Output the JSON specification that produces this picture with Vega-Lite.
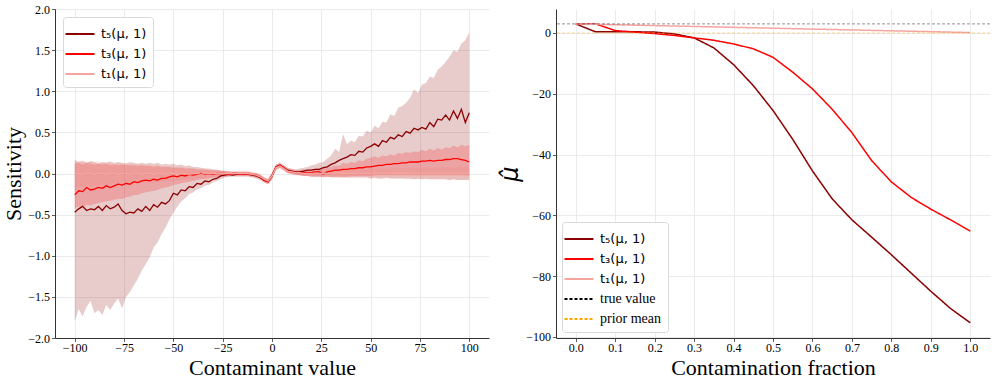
{
"$schema": "https://vega.github.io/schema/vega-lite/v6.json",
"background": "white",
"padding": {"left": 2, "top": 3, "right": 5, "bottom": 3},
"spacing": 9,
"config": {
  "view": {"stroke": null},
  "axis": {"labelFont": "Liberation Serif", "labelFontSize": 12, "labelColor": "#000", "titleFont": "Liberation Serif", "titleFontSize": 22, "titleFontWeight": "normal", "titleColor": "#000", "domainColor": "#333", "domainWidth": 1, "tickColor": "#333", "tickSize": 3.5, "tickWidth": 0.8, "gridColor": "#e6e6e6", "gridWidth": 0.8, "labelPadding": 2, "titlePadding": 2},
  "axisX": {"labelPadding": 1, "titlePadding": 4},
  "legend": {"labelFont": "DejaVu Sans", "labelFontSize": 13, "labelColor": "#000", "symbolType": "M-1.45,0H1.45", "symbolSize": 400, "symbolStrokeWidth": 2, "symbolOpacity": 1, "strokeColor": "#d9d9d9", "fillColor": "#ffffff", "cornerRadius": 3, "padding": 6, "labelOffset": 10, "rowPadding": 2}
},
"resolve": {"scale": {"color": "independent", "strokeDash": "independent"}, "legend": {"color": "independent", "strokeDash": "independent"}},
"hconcat": [
{
  "width": 434, "height": 329,
  "data": {"values": [
{"x":-100,"s":"t5","y":-0.47,"lo":-1.80,"hi":0.16},{"x":-98,"s":"t5","y":-0.43,"lo":-1.65,"hi":0.14},{"x":-96,"s":"t5","y":-0.40,"lo":-1.74,"hi":0.15},{"x":-94,"s":"t5","y":-0.45,"lo":-1.62,"hi":0.13},{"x":-92,"s":"t5","y":-0.43,"lo":-1.55,"hi":0.15},{"x":-90,"s":"t5","y":-0.44,"lo":-1.70,"hi":0.14},{"x":-88,"s":"t5","y":-0.40,"lo":-1.66,"hi":0.12},{"x":-86,"s":"t5","y":-0.45,"lo":-1.72,"hi":0.14},{"x":-84,"s":"t5","y":-0.39,"lo":-1.60,"hi":0.13},{"x":-82,"s":"t5","y":-0.43,"lo":-1.66,"hi":0.15},{"x":-80,"s":"t5","y":-0.41,"lo":-1.58,"hi":0.12},{"x":-78,"s":"t5","y":-0.37,"lo":-1.52,"hi":0.14},{"x":-76,"s":"t5","y":-0.45,"lo":-1.64,"hi":0.13},{"x":-74,"s":"t5","y":-0.49,"lo":-1.50,"hi":0.12},{"x":-72,"s":"t5","y":-0.47,"lo":-1.44,"hi":0.14},{"x":-70,"s":"t5","y":-0.48,"lo":-1.36,"hi":0.13},{"x":-68,"s":"t5","y":-0.43,"lo":-1.28,"hi":0.12},{"x":-66,"s":"t5","y":-0.46,"lo":-1.18,"hi":0.13},{"x":-64,"s":"t5","y":-0.40,"lo":-1.10,"hi":0.12},{"x":-62,"s":"t5","y":-0.45,"lo":-1.02,"hi":0.13},{"x":-60,"s":"t5","y":-0.38,"lo":-0.90,"hi":0.12},{"x":-58,"s":"t5","y":-0.41,"lo":-0.84,"hi":0.13},{"x":-56,"s":"t5","y":-0.35,"lo":-0.74,"hi":0.11},{"x":-54,"s":"t5","y":-0.37,"lo":-0.66,"hi":0.12},{"x":-52,"s":"t5","y":-0.33,"lo":-0.56,"hi":0.11},{"x":-50,"s":"t5","y":-0.24,"lo":-0.48,"hi":0.12},{"x":-48,"s":"t5","y":-0.26,"lo":-0.40,"hi":0.10},{"x":-46,"s":"t5","y":-0.20,"lo":-0.34,"hi":0.11},{"x":-44,"s":"t5","y":-0.21,"lo":-0.30,"hi":0.09},{"x":-42,"s":"t5","y":-0.16,"lo":-0.25,"hi":0.10},{"x":-40,"s":"t5","y":-0.17,"lo":-0.23,"hi":0.08},{"x":-38,"s":"t5","y":-0.12,"lo":-0.19,"hi":0.08},{"x":-36,"s":"t5","y":-0.13,"lo":-0.18,"hi":0.07},{"x":-34,"s":"t5","y":-0.09,"lo":-0.15,"hi":0.06},{"x":-32,"s":"t5","y":-0.10,"lo":-0.14,"hi":0.06},{"x":-30,"s":"t5","y":-0.07,"lo":-0.11,"hi":0.05},{"x":-28,"s":"t5","y":-0.06,"lo":-0.09,"hi":0.05},{"x":-26,"s":"t5","y":-0.03,"lo":-0.07,"hi":0.04},{"x":-24,"s":"t5","y":-0.02,"lo":-0.05,"hi":0.03},{"x":-22,"s":"t5","y":-0.01,"lo":-0.04,"hi":0.03},{"x":-20,"s":"t5","y":-0.02,"lo":-0.04,"hi":0.02},{"x":-18,"s":"t5","y":-0.01,"lo":-0.04,"hi":0.02},{"x":-16,"s":"t5","y":-0.01,"lo":-0.04,"hi":0.02},{"x":-14,"s":"t5","y":-0.01,"lo":-0.04,"hi":0.02},{"x":-12,"s":"t5","y":-0.01,"lo":-0.04,"hi":0.02},{"x":-10,"s":"t5","y":-0.02,"lo":-0.05,"hi":0.01},{"x":-8,"s":"t5","y":-0.03,"lo":-0.06,"hi":0.00},{"x":-6,"s":"t5","y":-0.05,"lo":-0.08,"hi":-0.02},{"x":-4,"s":"t5","y":-0.08,"lo":-0.11,"hi":-0.05},{"x":-2,"s":"t5","y":-0.10,"lo":-0.13,"hi":-0.07},{"x":0,"s":"t5","y":-0.03,"lo":-0.07,"hi":0.01},{"x":2,"s":"t5","y":0.08,"lo":0.04,"hi":0.11},{"x":4,"s":"t5","y":0.10,"lo":0.07,"hi":0.13},{"x":6,"s":"t5","y":0.07,"lo":0.04,"hi":0.10},{"x":8,"s":"t5","y":0.04,"lo":0.01,"hi":0.07},{"x":10,"s":"t5","y":0.03,"lo":0.00,"hi":0.06},{"x":12,"s":"t5","y":0.02,"lo":-0.01,"hi":0.05},{"x":14,"s":"t5","y":0.02,"lo":-0.02,"hi":0.06},{"x":16,"s":"t5","y":0.03,"lo":-0.03,"hi":0.07},{"x":18,"s":"t5","y":0.04,"lo":-0.03,"hi":0.08},{"x":20,"s":"t5","y":0.04,"lo":-0.04,"hi":0.10},{"x":22,"s":"t5","y":0.05,"lo":-0.04,"hi":0.11},{"x":24,"s":"t5","y":0.05,"lo":-0.04,"hi":0.13},{"x":26,"s":"t5","y":0.07,"lo":-0.04,"hi":0.14},{"x":28,"s":"t5","y":0.08,"lo":-0.04,"hi":0.18},{"x":30,"s":"t5","y":0.11,"lo":-0.05,"hi":0.22},{"x":32,"s":"t5","y":0.13,"lo":-0.05,"hi":0.30},{"x":34,"s":"t5","y":0.16,"lo":-0.05,"hi":0.26},{"x":36,"s":"t5","y":0.18,"lo":-0.05,"hi":0.48},{"x":38,"s":"t5","y":0.20,"lo":-0.05,"hi":0.36},{"x":40,"s":"t5","y":0.23,"lo":-0.05,"hi":0.40},{"x":42,"s":"t5","y":0.22,"lo":-0.05,"hi":0.38},{"x":44,"s":"t5","y":0.27,"lo":-0.05,"hi":0.46},{"x":46,"s":"t5","y":0.26,"lo":-0.05,"hi":0.45},{"x":48,"s":"t5","y":0.31,"lo":-0.05,"hi":0.52},{"x":50,"s":"t5","y":0.33,"lo":-0.06,"hi":0.50},{"x":52,"s":"t5","y":0.36,"lo":-0.05,"hi":0.58},{"x":54,"s":"t5","y":0.33,"lo":-0.06,"hi":0.55},{"x":56,"s":"t5","y":0.40,"lo":-0.06,"hi":0.63},{"x":58,"s":"t5","y":0.38,"lo":-0.05,"hi":0.62},{"x":60,"s":"t5","y":0.44,"lo":-0.06,"hi":0.72},{"x":62,"s":"t5","y":0.42,"lo":-0.06,"hi":0.70},{"x":64,"s":"t5","y":0.47,"lo":-0.06,"hi":0.80},{"x":66,"s":"t5","y":0.45,"lo":-0.06,"hi":0.82},{"x":68,"s":"t5","y":0.51,"lo":-0.06,"hi":0.86},{"x":70,"s":"t5","y":0.49,"lo":-0.06,"hi":0.92},{"x":72,"s":"t5","y":0.55,"lo":-0.07,"hi":1.02},{"x":74,"s":"t5","y":0.53,"lo":-0.06,"hi":0.98},{"x":76,"s":"t5","y":0.56,"lo":-0.07,"hi":1.08},{"x":78,"s":"t5","y":0.54,"lo":-0.06,"hi":1.10},{"x":80,"s":"t5","y":0.62,"lo":-0.07,"hi":1.18},{"x":82,"s":"t5","y":0.57,"lo":-0.07,"hi":1.16},{"x":84,"s":"t5","y":0.66,"lo":-0.07,"hi":1.26},{"x":86,"s":"t5","y":0.65,"lo":-0.07,"hi":1.30},{"x":88,"s":"t5","y":0.71,"lo":-0.07,"hi":1.36},{"x":90,"s":"t5","y":0.65,"lo":-0.08,"hi":1.42},{"x":92,"s":"t5","y":0.76,"lo":-0.07,"hi":1.50},{"x":94,"s":"t5","y":0.67,"lo":-0.08,"hi":1.48},{"x":96,"s":"t5","y":0.78,"lo":-0.08,"hi":1.58},{"x":98,"s":"t5","y":0.62,"lo":-0.08,"hi":1.62},{"x":100,"s":"t5","y":0.74,"lo":-0.08,"hi":1.72},
{"x":-100,"s":"t3","y":-0.26,"lo":-0.42,"hi":0.12},{"x":-98,"s":"t3","y":-0.21,"lo":-0.40,"hi":0.13},{"x":-96,"s":"t3","y":-0.22,"lo":-0.41,"hi":0.11},{"x":-94,"s":"t3","y":-0.17,"lo":-0.38,"hi":0.13},{"x":-92,"s":"t3","y":-0.20,"lo":-0.39,"hi":0.12},{"x":-90,"s":"t3","y":-0.19,"lo":-0.37,"hi":0.11},{"x":-88,"s":"t3","y":-0.17,"lo":-0.36,"hi":0.12},{"x":-86,"s":"t3","y":-0.18,"lo":-0.35,"hi":0.11},{"x":-84,"s":"t3","y":-0.15,"lo":-0.34,"hi":0.12},{"x":-82,"s":"t3","y":-0.17,"lo":-0.33,"hi":0.10},{"x":-80,"s":"t3","y":-0.15,"lo":-0.32,"hi":0.11},{"x":-78,"s":"t3","y":-0.13,"lo":-0.31,"hi":0.10},{"x":-76,"s":"t3","y":-0.14,"lo":-0.31,"hi":0.11},{"x":-74,"s":"t3","y":-0.12,"lo":-0.29,"hi":0.10},{"x":-72,"s":"t3","y":-0.13,"lo":-0.28,"hi":0.10},{"x":-70,"s":"t3","y":-0.10,"lo":-0.26,"hi":0.10},{"x":-68,"s":"t3","y":-0.11,"lo":-0.26,"hi":0.09},{"x":-66,"s":"t3","y":-0.09,"lo":-0.24,"hi":0.10},{"x":-64,"s":"t3","y":-0.08,"lo":-0.23,"hi":0.09},{"x":-62,"s":"t3","y":-0.09,"lo":-0.22,"hi":0.09},{"x":-60,"s":"t3","y":-0.07,"lo":-0.21,"hi":0.08},{"x":-58,"s":"t3","y":-0.08,"lo":-0.20,"hi":0.09},{"x":-56,"s":"t3","y":-0.06,"lo":-0.18,"hi":0.08},{"x":-54,"s":"t3","y":-0.06,"lo":-0.17,"hi":0.08},{"x":-52,"s":"t3","y":-0.04,"lo":-0.16,"hi":0.08},{"x":-50,"s":"t3","y":-0.03,"lo":-0.14,"hi":0.07},{"x":-48,"s":"t3","y":-0.04,"lo":-0.13,"hi":0.07},{"x":-46,"s":"t3","y":-0.02,"lo":-0.12,"hi":0.07},{"x":-44,"s":"t3","y":-0.03,"lo":-0.11,"hi":0.06},{"x":-42,"s":"t3","y":-0.01,"lo":-0.10,"hi":0.06},{"x":-40,"s":"t3","y":-0.02,"lo":-0.09,"hi":0.06},{"x":-38,"s":"t3","y":-0.01,"lo":-0.08,"hi":0.05},{"x":-36,"s":"t3","y":0.00,"lo":-0.07,"hi":0.05},{"x":-34,"s":"t3","y":-0.01,"lo":-0.07,"hi":0.05},{"x":-32,"s":"t3","y":0.00,"lo":-0.06,"hi":0.04},{"x":-30,"s":"t3","y":-0.01,"lo":-0.05,"hi":0.04},{"x":-28,"s":"t3","y":0.00,"lo":-0.05,"hi":0.04},{"x":-26,"s":"t3","y":0.00,"lo":-0.04,"hi":0.03},{"x":-24,"s":"t3","y":0.00,"lo":-0.04,"hi":0.03},{"x":-22,"s":"t3","y":-0.01,"lo":-0.03,"hi":0.02},{"x":-20,"s":"t3","y":0.00,"lo":-0.03,"hi":0.02},{"x":-18,"s":"t3","y":0.00,"lo":-0.03,"hi":0.02},{"x":-16,"s":"t3","y":-0.01,"lo":-0.03,"hi":0.02},{"x":-14,"s":"t3","y":0.00,"lo":-0.03,"hi":0.02},{"x":-12,"s":"t3","y":-0.01,"lo":-0.03,"hi":0.02},{"x":-10,"s":"t3","y":-0.01,"lo":-0.04,"hi":0.01},{"x":-8,"s":"t3","y":-0.02,"lo":-0.05,"hi":0.01},{"x":-6,"s":"t3","y":-0.04,"lo":-0.07,"hi":-0.01},{"x":-4,"s":"t3","y":-0.08,"lo":-0.11,"hi":-0.05},{"x":-2,"s":"t3","y":-0.10,"lo":-0.13,"hi":-0.07},{"x":0,"s":"t3","y":-0.03,"lo":-0.07,"hi":0.01},{"x":2,"s":"t3","y":0.08,"lo":0.05,"hi":0.11},{"x":4,"s":"t3","y":0.10,"lo":0.07,"hi":0.13},{"x":6,"s":"t3","y":0.07,"lo":0.04,"hi":0.10},{"x":8,"s":"t3","y":0.03,"lo":0.00,"hi":0.06},{"x":10,"s":"t3","y":0.02,"lo":-0.01,"hi":0.05},{"x":12,"s":"t3","y":0.01,"lo":-0.02,"hi":0.04},{"x":14,"s":"t3","y":0.01,"lo":-0.02,"hi":0.04},{"x":16,"s":"t3","y":0.01,"lo":-0.03,"hi":0.05},{"x":18,"s":"t3","y":0.01,"lo":-0.03,"hi":0.05},{"x":20,"s":"t3","y":0.01,"lo":-0.04,"hi":0.05},{"x":22,"s":"t3","y":0.02,"lo":-0.04,"hi":0.06},{"x":24,"s":"t3","y":0.02,"lo":-0.04,"hi":0.06},{"x":26,"s":"t3","y":-0.01,"lo":-0.05,"hi":0.05},{"x":28,"s":"t3","y":0.02,"lo":-0.04,"hi":0.07},{"x":30,"s":"t3","y":0.03,"lo":-0.04,"hi":0.08},{"x":32,"s":"t3","y":0.04,"lo":-0.04,"hi":0.10},{"x":34,"s":"t3","y":0.04,"lo":-0.04,"hi":0.09},{"x":36,"s":"t3","y":0.05,"lo":-0.04,"hi":0.13},{"x":38,"s":"t3","y":0.05,"lo":-0.04,"hi":0.12},{"x":40,"s":"t3","y":0.06,"lo":-0.03,"hi":0.14},{"x":42,"s":"t3","y":0.06,"lo":-0.03,"hi":0.13},{"x":44,"s":"t3","y":0.07,"lo":-0.03,"hi":0.16},{"x":46,"s":"t3","y":0.07,"lo":-0.03,"hi":0.15},{"x":48,"s":"t3","y":0.08,"lo":-0.03,"hi":0.18},{"x":50,"s":"t3","y":0.08,"lo":-0.03,"hi":0.19},{"x":52,"s":"t3","y":0.09,"lo":-0.02,"hi":0.21},{"x":54,"s":"t3","y":0.10,"lo":-0.02,"hi":0.19},{"x":56,"s":"t3","y":0.10,"lo":-0.02,"hi":0.22},{"x":58,"s":"t3","y":0.11,"lo":-0.02,"hi":0.21},{"x":60,"s":"t3","y":0.11,"lo":-0.02,"hi":0.23},{"x":62,"s":"t3","y":0.12,"lo":-0.02,"hi":0.22},{"x":64,"s":"t3","y":0.12,"lo":-0.02,"hi":0.25},{"x":66,"s":"t3","y":0.13,"lo":-0.02,"hi":0.24},{"x":68,"s":"t3","y":0.13,"lo":-0.02,"hi":0.26},{"x":70,"s":"t3","y":0.14,"lo":-0.02,"hi":0.25},{"x":72,"s":"t3","y":0.14,"lo":-0.02,"hi":0.27},{"x":74,"s":"t3","y":0.14,"lo":-0.02,"hi":0.26},{"x":76,"s":"t3","y":0.15,"lo":-0.02,"hi":0.29},{"x":78,"s":"t3","y":0.15,"lo":-0.02,"hi":0.27},{"x":80,"s":"t3","y":0.16,"lo":-0.02,"hi":0.30},{"x":82,"s":"t3","y":0.15,"lo":-0.02,"hi":0.28},{"x":84,"s":"t3","y":0.16,"lo":-0.02,"hi":0.31},{"x":86,"s":"t3","y":0.16,"lo":-0.02,"hi":0.29},{"x":88,"s":"t3","y":0.17,"lo":-0.02,"hi":0.32},{"x":90,"s":"t3","y":0.17,"lo":-0.02,"hi":0.31},{"x":92,"s":"t3","y":0.18,"lo":-0.02,"hi":0.34},{"x":94,"s":"t3","y":0.18,"lo":-0.02,"hi":0.32},{"x":96,"s":"t3","y":0.17,"lo":-0.02,"hi":0.35},{"x":98,"s":"t3","y":0.16,"lo":-0.02,"hi":0.33},{"x":100,"s":"t3","y":0.14,"lo":-0.03,"hi":0.35},
{"x":-100,"s":"t1","y":-0.01,"lo":-0.17,"hi":0.16},{"x":-98,"s":"t1","y":0.00,"lo":-0.16,"hi":0.15},{"x":-96,"s":"t1","y":-0.01,"lo":-0.17,"hi":0.16},{"x":-94,"s":"t1","y":0.00,"lo":-0.15,"hi":0.14},{"x":-92,"s":"t1","y":0.00,"lo":-0.16,"hi":0.15},{"x":-90,"s":"t1","y":-0.01,"lo":-0.15,"hi":0.14},{"x":-88,"s":"t1","y":0.00,"lo":-0.15,"hi":0.15},{"x":-86,"s":"t1","y":0.00,"lo":-0.14,"hi":0.13},{"x":-84,"s":"t1","y":-0.01,"lo":-0.15,"hi":0.14},{"x":-82,"s":"t1","y":0.00,"lo":-0.14,"hi":0.13},{"x":-80,"s":"t1","y":0.00,"lo":-0.13,"hi":0.14},{"x":-78,"s":"t1","y":-0.01,"lo":-0.14,"hi":0.13},{"x":-76,"s":"t1","y":0.00,"lo":-0.13,"hi":0.12},{"x":-74,"s":"t1","y":0.00,"lo":-0.13,"hi":0.13},{"x":-72,"s":"t1","y":-0.01,"lo":-0.12,"hi":0.12},{"x":-70,"s":"t1","y":0.00,"lo":-0.12,"hi":0.11},{"x":-68,"s":"t1","y":0.00,"lo":-0.12,"hi":0.12},{"x":-66,"s":"t1","y":-0.01,"lo":-0.11,"hi":0.11},{"x":-64,"s":"t1","y":0.00,"lo":-0.11,"hi":0.11},{"x":-62,"s":"t1","y":0.00,"lo":-0.11,"hi":0.10},{"x":-60,"s":"t1","y":-0.01,"lo":-0.10,"hi":0.10},{"x":-58,"s":"t1","y":0.00,"lo":-0.10,"hi":0.10},{"x":-56,"s":"t1","y":0.00,"lo":-0.10,"hi":0.09},{"x":-54,"s":"t1","y":-0.01,"lo":-0.09,"hi":0.09},{"x":-52,"s":"t1","y":0.00,"lo":-0.09,"hi":0.09},{"x":-50,"s":"t1","y":0.00,"lo":-0.09,"hi":0.08},{"x":-48,"s":"t1","y":-0.01,"lo":-0.08,"hi":0.08},{"x":-46,"s":"t1","y":0.00,"lo":-0.08,"hi":0.08},{"x":-44,"s":"t1","y":0.00,"lo":-0.08,"hi":0.07},{"x":-42,"s":"t1","y":-0.01,"lo":-0.07,"hi":0.07},{"x":-40,"s":"t1","y":0.00,"lo":-0.07,"hi":0.07},{"x":-38,"s":"t1","y":0.00,"lo":-0.06,"hi":0.06},{"x":-36,"s":"t1","y":-0.01,"lo":-0.06,"hi":0.06},{"x":-34,"s":"t1","y":0.00,"lo":-0.06,"hi":0.06},{"x":-32,"s":"t1","y":0.00,"lo":-0.05,"hi":0.05},{"x":-30,"s":"t1","y":0.00,"lo":-0.05,"hi":0.05},{"x":-28,"s":"t1","y":0.00,"lo":-0.05,"hi":0.04},{"x":-26,"s":"t1","y":0.00,"lo":-0.04,"hi":0.04},{"x":-24,"s":"t1","y":0.00,"lo":-0.04,"hi":0.04},{"x":-22,"s":"t1","y":0.00,"lo":-0.04,"hi":0.03},{"x":-20,"s":"t1","y":0.00,"lo":-0.03,"hi":0.03},{"x":-18,"s":"t1","y":0.00,"lo":-0.03,"hi":0.03},{"x":-16,"s":"t1","y":0.00,"lo":-0.03,"hi":0.03},{"x":-14,"s":"t1","y":0.00,"lo":-0.03,"hi":0.03},{"x":-12,"s":"t1","y":0.00,"lo":-0.03,"hi":0.03},{"x":-10,"s":"t1","y":-0.01,"lo":-0.04,"hi":0.02},{"x":-8,"s":"t1","y":-0.02,"lo":-0.05,"hi":0.01},{"x":-6,"s":"t1","y":-0.04,"lo":-0.07,"hi":-0.01},{"x":-4,"s":"t1","y":-0.07,"lo":-0.10,"hi":-0.04},{"x":-2,"s":"t1","y":-0.09,"lo":-0.12,"hi":-0.06},{"x":0,"s":"t1","y":-0.03,"lo":-0.06,"hi":0.00},{"x":2,"s":"t1","y":0.07,"lo":0.04,"hi":0.10},{"x":4,"s":"t1","y":0.09,"lo":0.06,"hi":0.12},{"x":6,"s":"t1","y":0.06,"lo":0.03,"hi":0.09},{"x":8,"s":"t1","y":0.03,"lo":0.00,"hi":0.06},{"x":10,"s":"t1","y":0.02,"lo":-0.01,"hi":0.05},{"x":12,"s":"t1","y":0.01,"lo":-0.02,"hi":0.04},{"x":14,"s":"t1","y":0.01,"lo":-0.02,"hi":0.04},{"x":16,"s":"t1","y":0.00,"lo":-0.03,"hi":0.03},{"x":18,"s":"t1","y":0.00,"lo":-0.03,"hi":0.03},{"x":20,"s":"t1","y":0.00,"lo":-0.03,"hi":0.03},{"x":22,"s":"t1","y":0.00,"lo":-0.03,"hi":0.03},{"x":24,"s":"t1","y":0.00,"lo":-0.03,"hi":0.04},{"x":26,"s":"t1","y":0.00,"lo":-0.04,"hi":0.04},{"x":28,"s":"t1","y":0.00,"lo":-0.04,"hi":0.04},{"x":30,"s":"t1","y":0.00,"lo":-0.04,"hi":0.04},{"x":32,"s":"t1","y":0.00,"lo":-0.04,"hi":0.05},{"x":34,"s":"t1","y":0.00,"lo":-0.04,"hi":0.04},{"x":36,"s":"t1","y":0.00,"lo":-0.05,"hi":0.05},{"x":38,"s":"t1","y":0.00,"lo":-0.05,"hi":0.05},{"x":40,"s":"t1","y":0.00,"lo":-0.05,"hi":0.05},{"x":42,"s":"t1","y":0.00,"lo":-0.05,"hi":0.05},{"x":44,"s":"t1","y":0.00,"lo":-0.05,"hi":0.05},{"x":46,"s":"t1","y":0.00,"lo":-0.05,"hi":0.06},{"x":48,"s":"t1","y":0.00,"lo":-0.05,"hi":0.05},{"x":50,"s":"t1","y":0.00,"lo":-0.06,"hi":0.06},{"x":52,"s":"t1","y":0.00,"lo":-0.06,"hi":0.06},{"x":54,"s":"t1","y":0.00,"lo":-0.06,"hi":0.06},{"x":56,"s":"t1","y":0.00,"lo":-0.06,"hi":0.06},{"x":58,"s":"t1","y":0.00,"lo":-0.06,"hi":0.06},{"x":60,"s":"t1","y":0.00,"lo":-0.06,"hi":0.06},{"x":62,"s":"t1","y":0.00,"lo":-0.06,"hi":0.06},{"x":64,"s":"t1","y":0.00,"lo":-0.06,"hi":0.07},{"x":66,"s":"t1","y":0.00,"lo":-0.06,"hi":0.06},{"x":68,"s":"t1","y":0.00,"lo":-0.07,"hi":0.07},{"x":70,"s":"t1","y":0.00,"lo":-0.07,"hi":0.07},{"x":72,"s":"t1","y":0.00,"lo":-0.07,"hi":0.07},{"x":74,"s":"t1","y":0.00,"lo":-0.07,"hi":0.07},{"x":76,"s":"t1","y":0.00,"lo":-0.07,"hi":0.07},{"x":78,"s":"t1","y":0.00,"lo":-0.07,"hi":0.07},{"x":80,"s":"t1","y":0.00,"lo":-0.07,"hi":0.07},{"x":82,"s":"t1","y":0.00,"lo":-0.07,"hi":0.07},{"x":84,"s":"t1","y":0.00,"lo":-0.07,"hi":0.07},{"x":86,"s":"t1","y":0.00,"lo":-0.07,"hi":0.08},{"x":88,"s":"t1","y":0.00,"lo":-0.07,"hi":0.07},{"x":90,"s":"t1","y":0.00,"lo":-0.08,"hi":0.08},{"x":92,"s":"t1","y":0.00,"lo":-0.07,"hi":0.07},{"x":94,"s":"t1","y":0.00,"lo":-0.08,"hi":0.08},{"x":96,"s":"t1","y":0.00,"lo":-0.08,"hi":0.08},{"x":98,"s":"t1","y":0.00,"lo":-0.07,"hi":0.08},{"x":100,"s":"t1","y":0.00,"lo":-0.08,"hi":0.08}
  ]},
  "encoding": {
    "x": {"field": "x", "type": "quantitative", "scale": {"domain": [-110, 110], "nice": false, "zero": false}, "axis": {"values": [-100, -75, -50, -25, 0, 25, 50, 75, 100], "title": "Contaminant value", "labelFont": "Liberation Serif"}}
  },
  "layer": [
    {"transform": [{"filter": "datum.s == 't5'"}],
     "mark": {"type": "area", "opacity": 0.2, "color": "#8b0000"},
     "encoding": {
       "y": {"field": "lo", "type": "quantitative", "scale": {"domain": [-2, 2], "nice": false}, "axis": {"values": [-2, -1.5, -1, -0.5, 0, 0.5, 1, 1.5, 2], "format": ".1f", "title": "Sensitivity", "labelFont": "Liberation Serif"}},
       "y2": {"field": "hi"}
     }},
    {"transform": [{"filter": "datum.s == 't3'"}],
     "mark": {"type": "area", "opacity": 0.2, "color": "#ff0000"},
     "encoding": {"y": {"field": "lo", "type": "quantitative"}, "y2": {"field": "hi"}}},
    {"transform": [{"filter": "datum.s == 't1'"}],
     "mark": {"type": "area", "opacity": 0.2, "color": "#fa8072"},
     "encoding": {"y": {"field": "lo", "type": "quantitative"}, "y2": {"field": "hi"}}},
    {"mark": {"type": "line", "strokeWidth": 1.3},
     "encoding": {
       "y": {"field": "y", "type": "quantitative"},
       "color": {"field": "s", "type": "nominal", "scale": {"domain": ["t5", "t3", "t1"], "range": ["#8b0000", "#ff0000", "#f5a5a0"]},
         "legend": {"title": null, "orient": "top-left", "offset": 8, "labelExpr": "datum.label == 't5' ? 't₅(μ, 1)' : datum.label == 't3' ? 't₃(μ, 1)' : 't₁(μ, 1)'"}}
     }}
  ]
},
{
  "width": 434, "height": 329,
  "layer": [
    {"data": {"values": [
{"f":0.00,"s":"t5","v":3.0},{"f":0.05,"s":"t5","v":0.4},{"f":0.10,"s":"t5","v":0.4},{"f":0.15,"s":"t5","v":0.4},{"f":0.20,"s":"t5","v":0.3},{"f":0.25,"s":"t5","v":-0.3},{"f":0.30,"s":"t5","v":-1.6},{"f":0.35,"s":"t5","v":-4.9},{"f":0.40,"s":"t5","v":-10.4},{"f":0.45,"s":"t5","v":-17.3},{"f":0.50,"s":"t5","v":-25.5},{"f":0.55,"s":"t5","v":-35.0},{"f":0.60,"s":"t5","v":-45.4},{"f":0.65,"s":"t5","v":-54.6},{"f":0.70,"s":"t5","v":-61.5},{"f":0.75,"s":"t5","v":-67.2},{"f":0.80,"s":"t5","v":-73.0},{"f":0.85,"s":"t5","v":-79.0},{"f":0.90,"s":"t5","v":-85.0},{"f":0.95,"s":"t5","v":-90.7},{"f":1.00,"s":"t5","v":-95.4},
{"f":0.00,"s":"t3","v":3.0},{"f":0.05,"s":"t3","v":3.0},{"f":0.10,"s":"t3","v":0.8},{"f":0.15,"s":"t3","v":0.3},{"f":0.20,"s":"t3","v":-0.2},{"f":0.25,"s":"t3","v":-0.8},{"f":0.30,"s":"t3","v":-1.6},{"f":0.35,"s":"t3","v":-2.4},{"f":0.40,"s":"t3","v":-3.6},{"f":0.45,"s":"t3","v":-5.2},{"f":0.50,"s":"t3","v":-8.0},{"f":0.55,"s":"t3","v":-12.9},{"f":0.60,"s":"t3","v":-18.4},{"f":0.65,"s":"t3","v":-25.1},{"f":0.70,"s":"t3","v":-32.8},{"f":0.75,"s":"t3","v":-42.0},{"f":0.80,"s":"t3","v":-49.0},{"f":0.85,"s":"t3","v":-54.1},{"f":0.90,"s":"t3","v":-58.0},{"f":0.95,"s":"t3","v":-61.5},{"f":1.00,"s":"t3","v":-65.2},
{"f":0.00,"s":"t1","v":3.0},{"f":0.05,"s":"t1","v":2.85},{"f":0.10,"s":"t1","v":2.72},{"f":0.15,"s":"t1","v":2.58},{"f":0.20,"s":"t1","v":2.44},{"f":0.25,"s":"t1","v":2.29},{"f":0.30,"s":"t1","v":2.15},{"f":0.35,"s":"t1","v":2.01},{"f":0.40,"s":"t1","v":1.86},{"f":0.45,"s":"t1","v":1.72},{"f":0.50,"s":"t1","v":1.58},{"f":0.55,"s":"t1","v":1.43},{"f":0.60,"s":"t1","v":1.29},{"f":0.65,"s":"t1","v":1.15},{"f":0.70,"s":"t1","v":1.01},{"f":0.75,"s":"t1","v":0.86},{"f":0.80,"s":"t1","v":0.72},{"f":0.85,"s":"t1","v":0.58},{"f":0.90,"s":"t1","v":0.44},{"f":0.95,"s":"t1","v":0.29},{"f":1.00,"s":"t1","v":0.15}
    ]},
     "mark": {"type": "line", "strokeWidth": 1.5},
     "encoding": {
       "x": {"field": "f", "type": "quantitative", "scale": {"domain": [-0.05, 1.05], "nice": false, "zero": false}, "axis": {"values": [0, 0.1, 0.2, 0.3, 0.4, 0.5, 0.6, 0.7, 0.8, 0.9, 1.0], "format": ".1f", "title": "Contamination fraction", "labelFont": "Liberation Serif"}},
       "y": {"field": "v", "type": "quantitative", "scale": {"domain": [-100.4, 7.9], "nice": false, "zero": false}, "axis": {"values": [-100, -80, -60, -40, -20, 0], "title": "μ̂", "labelFont": "Liberation Serif", "titleFont": "DejaVu Sans", "titleFontStyle": "italic", "titleFontSize": 24, "titlePadding": 3}},
       "color": {"field": "s", "type": "nominal", "scale": {"domain": ["t5", "t3", "t1", "tv", "pm"], "range": ["#8b0000", "#ff0000", "#f5a5a0", "#000000", "#ffa500"]},
         "legend": {"title": null, "orient": "bottom-left", "offset": 6, "symbolOpacity": 1, "labelFont": {"expr": "datum.label == 'tv' || datum.label == 'pm' ? 'Liberation Serif' : 'DejaVu Sans'"}, "labelFontSize": {"expr": "datum.label == 'tv' || datum.label == 'pm' ? 14 : 13"}, "labelExpr": "datum.label == 't5' ? 't₅(μ, 1)' : datum.label == 't3' ? 't₃(μ, 1)' : datum.label == 't1' ? 't₁(μ, 1)' : datum.label == 'tv' ? 'true value' : 'prior mean'"}},
       "strokeDash": {"field": "s", "type": "nominal", "scale": {"domain": ["t5", "t3", "t1", "tv", "pm"], "range": [[1, 0], [1, 0], [1, 0], [3, 2], [3, 2]]},
         "legend": {"title": null, "orient": "bottom-left", "offset": 6, "symbolOpacity": 1, "labelFont": {"expr": "datum.label == 'tv' || datum.label == 'pm' ? 'Liberation Serif' : 'DejaVu Sans'"}, "labelFontSize": {"expr": "datum.label == 'tv' || datum.label == 'pm' ? 14 : 13"}, "labelExpr": "datum.label == 't5' ? 't₅(μ, 1)' : datum.label == 't3' ? 't₃(μ, 1)' : datum.label == 't1' ? 't₁(μ, 1)' : datum.label == 'tv' ? 'true value' : 'prior mean'"}}
     }},
    {"data": {"values": [{"s": "tv", "r": 3}, {"s": "pm", "r": 0}]},
     "mark": {"type": "rule", "strokeWidth": 0.8, "opacity": 0.55},
     "encoding": {
       "y": {"field": "r", "type": "quantitative"},
       "color": {"field": "s", "type": "nominal"},
       "strokeDash": {"field": "s", "type": "nominal"}
     }}
  ]
}
]
}
